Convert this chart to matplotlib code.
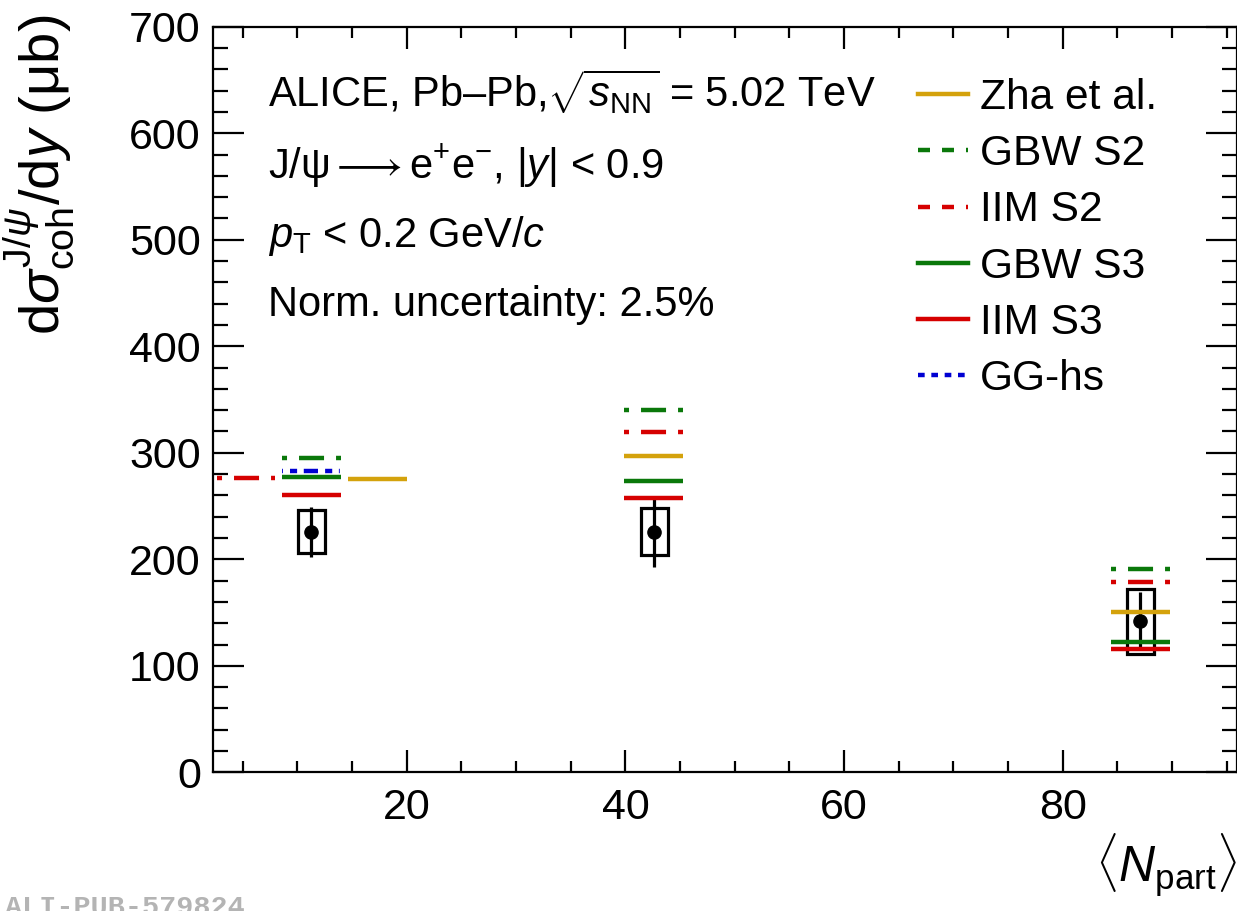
import matplotlib
matplotlib.use("Agg")
import matplotlib.pyplot as plt
from matplotlib.lines import Line2D
from matplotlib.ticker import MultipleLocator

plt.rcParams['font.family'] = ['Liberation Sans', 'DejaVu Sans']
plt.rcParams['mathtext.fontset'] = 'custom'
plt.rcParams['mathtext.rm'] = 'Liberation Sans'
plt.rcParams['mathtext.it'] = 'Liberation Sans:italic'
plt.rcParams['mathtext.bf'] = 'Liberation Sans:bold'

# ---------------- data ----------------
npart = [11.25, 42.63, 87.1]
xsec = [226.0, 226.0, 142.0]
stat_lo = [202.2, 193.0, 115.0]
stat_hi = [249.1, 259.0, 169.6]
syst_lo = [205.9, 204.0, 111.1]
syst_hi = [246.3, 248.1, 171.8]

# model predictions: value and x-extent of each horizontal segment
zha_y = [275.4, 297.0, 150.2]
zha_xlo = [14.6, 39.9, 84.4]
zha_xhi = [20.0, 45.3, 89.8]

gbw_s2_y = [295.1, 340.2, 190.5]
gbw_s2_xlo = [8.6, 39.9, 84.4]
gbw_s2_xhi = [14.0, 45.3, 89.8]

iim_s2_y = [276.6, 319.5, 178.4]
iim_s2_xlo = [2.65, 39.9, 84.4]
iim_s2_xhi = [7.95, 45.3, 89.8]

gbw_s3_y = [277.0, 273.8, 122.6]
gbw_s3_xlo = [8.6, 39.9, 84.4]
gbw_s3_xhi = [14.0, 45.3, 89.8]

iim_s3_y = [260.3, 257.3, 115.5]
iim_s3_xlo = [8.6, 39.9, 84.4]
iim_s3_xhi = [14.0, 45.3, 89.8]

gghs_y = [282.9]
gghs_xlo = [8.6]
gghs_xhi = [14.0]

labels = ['Zha et al.', 'GBW S2', 'IIM S2', 'GBW S3', 'IIM S3', 'GG-hs']
x_ticks = [20, 40, 60, 80]
y_ticks = [0, 100, 200, 300, 400, 500, 600, 700]

# ---------------- style ----------------
GOLD = '#d4a20c'
GREEN = '#0a780a'
RED = '#d60000'
BLUE = '#0000d2'
LW = 3.2
S2_STYLE = (0, (1.13, 2.7, 5.63, 2.7, 1.13, 20))
GG_STYLE = (0, (0.2, 1.6, 1.6, 1.5, 3.2, 1.6, 1.6, 1.5, 0.2, 10))
S2_LEG = (0, (2.7, 2.7))
GG_LEG = (0, (1.5, 1.5))

fig = plt.figure(figsize=(12.37, 9.11), dpi=100)
ax = fig.add_axes([0.1724, 0.1522, 0.8273, 0.8185])

# data: systematic boxes and statistical error bars
box_w = 2.45
ax.bar(npart, [h - l for h, l in zip(syst_hi, syst_lo)], bottom=syst_lo,
       width=box_w, fill=False, edgecolor='black', linewidth=2.3, zorder=2)
yerr = [[c - l for c, l in zip(xsec, stat_lo)], [h - c for c, h in zip(xsec, stat_hi)]]
ax.errorbar(npart, xsec, yerr=yerr, fmt='o', color='black', ms=9.5,
            elinewidth=2.3, capsize=0, zorder=3)

# models
ax.hlines(zha_y, zha_xlo, zha_xhi, colors=GOLD, linewidth=LW, zorder=4)
ax.hlines(gbw_s2_y, gbw_s2_xlo, gbw_s2_xhi, colors=GREEN, linewidth=LW,
          linestyles=[S2_STYLE], zorder=4)
ax.hlines(iim_s2_y, iim_s2_xlo, iim_s2_xhi, colors=RED, linewidth=LW,
          linestyles=[S2_STYLE], zorder=4)
ax.hlines(gbw_s3_y, gbw_s3_xlo, gbw_s3_xhi, colors=GREEN, linewidth=LW, zorder=4)
ax.hlines(iim_s3_y, iim_s3_xlo, iim_s3_xhi, colors=RED, linewidth=LW, zorder=4)
ax.hlines(gghs_y, gghs_xlo, gghs_xhi, colors=BLUE, linewidth=LW,
          linestyles=[GG_STYLE], zorder=4)

# axes
ax.set_xlim(2.3, 95.9)
ax.set_ylim(0, 700)
ax.set_xticks(x_ticks)
ax.set_yticks(y_ticks)
ax.xaxis.set_minor_locator(MultipleLocator(5))
ax.yaxis.set_minor_locator(MultipleLocator(20))
for s in ax.spines.values():
    s.set_linewidth(1.6)
ax.tick_params(which='both', direction='in', top=True, right=True, width=1.6,
               labelsize=31, colors='black')
ax.xaxis.set_tick_params(which='major', length=16, pad=11)
ax.xaxis.set_tick_params(which='minor', length=8)
ax.yaxis.set_tick_params(which='major', length=22, pad=9)
ax.yaxis.set_tick_params(which='minor', length=11)

# axis titles
ax.text(-0.1498, 1.0157,
        r'$\mathrm{d}\sigma^{\mathrm{J}/\psi}_{\mathrm{coh}}/\mathrm{d}y\ (\mathrm{\mu b})$',
        transform=ax.transAxes, rotation=90, rotation_mode='anchor',
        ha='right', va='baseline', fontsize=40.5)
ax.text(1.0, -0.1467, r'$\langle N_{\mathrm{part}}\rangle$', transform=ax.transAxes,
        ha='right', va='baseline', fontsize=36)

# info text
tx = 0.0534
FS = 30
ax.text(tx, 0.892, r'ALICE, Pb–Pb,$\sqrt{s_{\mathrm{NN}}}$ = 5.02 TeV',
        transform=ax.transAxes, fontsize=FS, va='baseline')
ax.text(tx, 0.796, r'J/ψ$\longrightarrow$e$^{+}$e$^{-}$, |$y$| < 0.9',
        transform=ax.transAxes, fontsize=FS, va='baseline')
ax.text(tx, 0.704, r'$p_{\mathrm{T}}$ < 0.2 GeV/$c$',
        transform=ax.transAxes, fontsize=FS, va='baseline')
ax.text(tx, 0.612, 'Norm. uncertainty: 2.5%',
        transform=ax.transAxes, fontsize=FS, va='baseline')

# legend
handles = [
    Line2D([], [], color=GOLD, lw=LW),
    Line2D([], [], color=GREEN, lw=LW, linestyle=S2_LEG),
    Line2D([], [], color=RED, lw=LW, linestyle=S2_LEG),
    Line2D([], [], color=GREEN, lw=LW),
    Line2D([], [], color=RED, lw=LW),
    Line2D([], [], color=BLUE, lw=LW, linestyle=GG_LEG),
]
ax.legend(handles, labels, loc='upper left', bbox_to_anchor=(0.6886, 0.931),
          frameon=False, fontsize=30.6, handlelength=1.18, handletextpad=0.28,
          labelspacing=0.38, borderpad=0, borderaxespad=0)

# watermark
fig.text(0.004, -0.004, 'ALI-PUB-579824', family='Liberation Mono', weight='bold',
         fontsize=20.5, color='#b4b4b4', va='baseline', ha='left')

fig.savefig('out.png', dpi=100)
